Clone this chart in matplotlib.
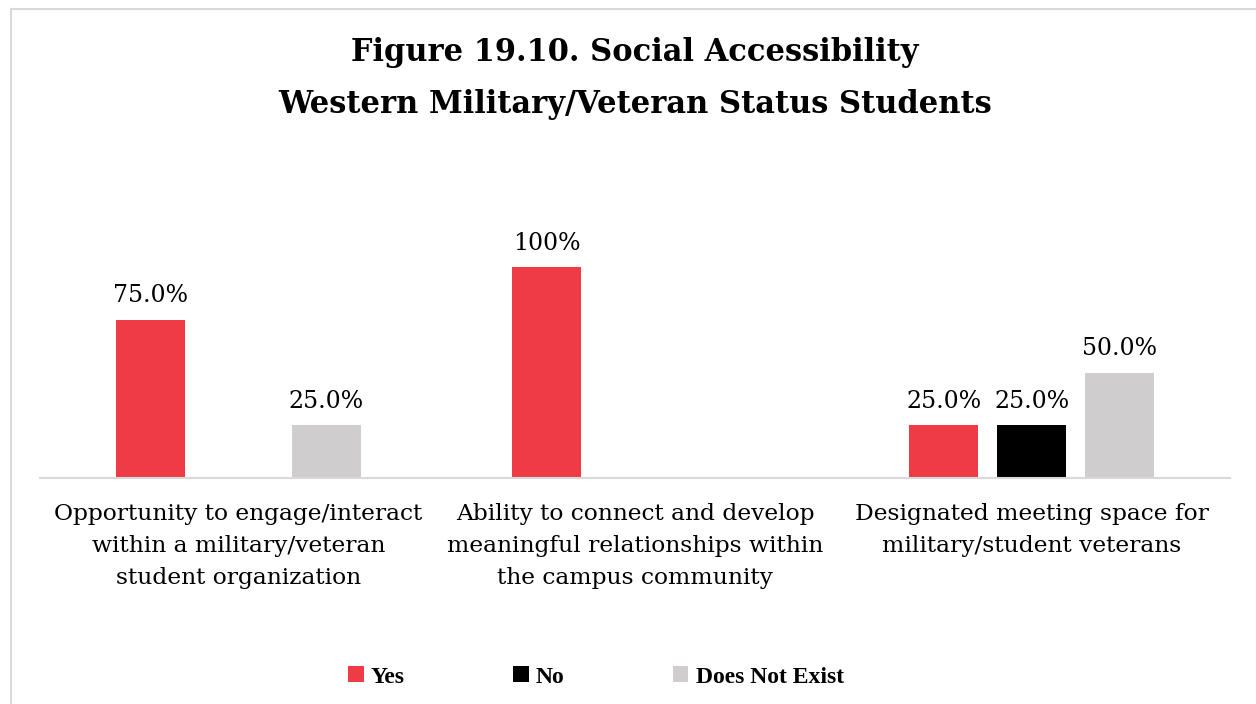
import matplotlib.pyplot as plt
from matplotlib.lines import Line2D
from matplotlib.patches import Patch
import numpy as np

categories = [
    "Opportunity to engage/interact\nwithin a military/veteran\nstudent organization",
    "Ability to connect and develop\nmeaningful relationships within\nthe campus community",
    "Designated meeting space for\nmilitary/student veterans",
]
series_names = ["Yes", "No", "Does Not Exist"]
yes_vals = [75.0, 100.0, 25.0]
no_vals = [0.0, 0.0, 25.0]
dne_vals = [25.0, 0.0, 50.0]
value_labels = [
    ["75.0%", "100%", "25.0%"],
    ["", "", "25.0%"],
    ["25.0%", "", "50.0%"],
]
colors = ["#EF3B45", "#000000", "#CFCDCE"]

plt.rcParams["font.family"] = ["DejaVu Serif"]

fig = plt.figure(figsize=(12.56, 7.04), dpi=100)
ax = fig.add_axes([40 / 1256, 1 - 478 / 704, 1190 / 1256, 253 / 704])

x = np.arange(len(categories))
offset = 0.222
width = 0.174
series = [yes_vals, no_vals, dne_vals]
for i, (vals, col) in enumerate(zip(series, colors)):
    pos = x + (i - 1) * offset
    bars = ax.bar(pos, vals, width=width, color=col, zorder=2)
    for b, v, lab in zip(bars, vals, value_labels[i]):
        if lab:
            ax.annotate(lab, (b.get_x() + b.get_width() / 2, v),
                        xytext=(0, 9), textcoords="offset points",
                        ha="center", va="bottom", fontsize=17, color="#000000")

ax.set_xlim(-0.5, 2.5)
ax.set_ylim(0, 120)
ax.set_yticks([])
ax.set_xticks(x)
ax.set_xticklabels(categories, fontsize=16.8, linespacing=1.58)
ax.tick_params(axis="x", length=0, pad=18)
for s in ["top", "right", "left"]:
    ax.spines[s].set_visible(False)
ax.spines["bottom"].set_color("#D9D9D9")
ax.spines["bottom"].set_linewidth(1.5)

fig.text(635 / 1256, 1 - 53 / 704, "Figure 19.10. Social Accessibility",
         ha="center", va="center", fontsize=22, fontweight="bold")
fig.text(635 / 1256, 1 - 104 / 704, "Western Military/Veteran Status Students",
         ha="center", va="center", fontsize=22, fontweight="bold")

handles = [Patch(facecolor=c, edgecolor="none") for c in colors]
fig.legend(handles, series_names, loc="center", bbox_to_anchor=(596 / 1256, 1 - 677 / 704),
           ncol=3, frameon=False,
           prop={"family": "Liberation Serif", "weight": "bold", "size": 17},
           handlelength=0.65, handleheight=0.65, handletextpad=0.3, columnspacing=4.6)

# outer frame (top and left edges)
fig.add_artist(Line2D([11 / 1256, 1], [1 - 9 / 704, 1 - 9 / 704],
                      transform=fig.transFigure, color="#D9D9D9", lw=1.5))
fig.add_artist(Line2D([11 / 1256, 11 / 1256], [0, 1 - 9 / 704],
                      transform=fig.transFigure, color="#D9D9D9", lw=1.5))

fig.savefig("out.png", dpi=100)
